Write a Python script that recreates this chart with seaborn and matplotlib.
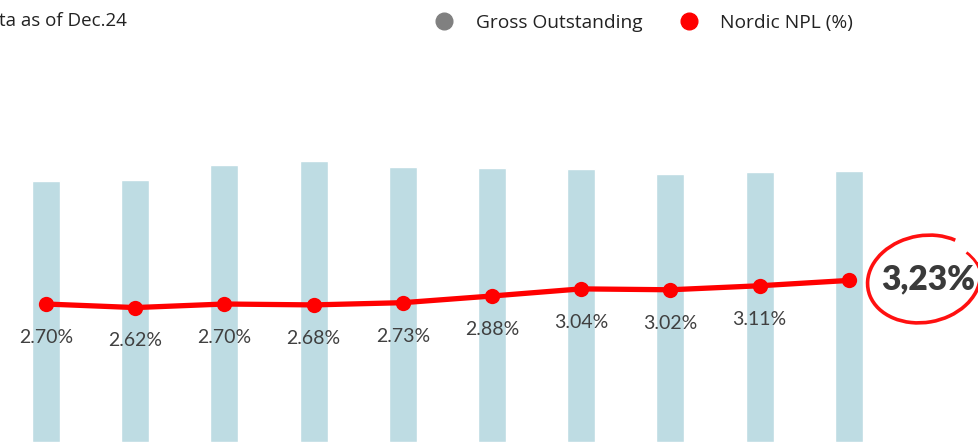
import matplotlib
matplotlib.use("Agg")
import matplotlib.pyplot as plt
from matplotlib.lines import Line2D
from matplotlib.patches import Arc
import seaborn as sns
import pandas as pd
import numpy as np

periods = ["P1", "P2", "P3", "P4", "P5", "P6", "P7", "P8", "P9", "P10"]
gross_outstanding = [26.1, 26.2, 27.7, 28.1, 27.5, 27.4, 27.3, 26.8, 27.0, 27.1]
npl_pct = [2.70, 2.62, 2.70, 2.68, 2.73, 2.88, 3.04, 3.02, 3.11, 3.23]
npl_labels = ["2.70%", "2.62%", "2.70%", "2.68%", "2.73%", "2.88%", "3.04%", "3.02%", "3.11%", "3,23%"]

sns.set_theme(style="white")
plt.rcParams['font.family'] = ['Lato', 'DejaVu Sans']

W, H = 979, 442
fig = plt.figure(figsize=(W / 100, H / 100), dpi=100)
ax = fig.add_axes([0, 0, 1, 1])

df = pd.DataFrame({"period": periods, "gross": gross_outstanding, "npl": npl_pct})
df["x"] = np.arange(len(df))

# bars
step = 89.2
x0 = 46
xlim = (-x0 / step, (W - x0) / step)
bar_w = 28 / step
sns.barplot(data=df, x="period", y="gross", ax=ax, color="#bedce3",
            width=bar_w, saturation=1, native_scale=False)
ax.set_xlim(*xlim)
ax.set_ylim(0, 44.2)
ax.axis("off")

# line on twin axis
ax2 = ax.twinx()
sns.lineplot(data=df, x="x", y="npl", ax=ax2, color="#ff0000", linewidth=3.8,
             marker="o", markersize=11, markeredgewidth=0, legend=False)
ax2.set_xlim(*xlim)
ax2.set_ylim(-0.40, 9.53)
ax2.axis("off")

# labels
for i, (v, lab) in enumerate(zip(npl_pct, npl_labels)):
    if i < len(npl_pct) - 1:
        ax2.annotate(lab, (i, v), xytext=(0, -24), textcoords="offset points",
                     ha="center", va="center", fontsize=14, color="#404040")
    else:
        ax2.annotate(lab, (i, v), xytext=(57, 1), textcoords="offset points",
                     ha="center", va="center", fontsize=24, color="#3a3a3a",
                     fontweight="heavy")

# hand drawn circle
fx = lambda px: px / W
fy = lambda py: 1 - py / H
arc = Arc((fx(924), fy(279)), 112 / W, 88 / H, angle=-5, theta1=75, theta2=400,
          transform=fig.transFigure, color="#ff1010", linewidth=2.6)
fig.add_artist(arc)
arc2 = Arc((fx(930), fy(281)), 104 / W, 80 / H, angle=0, theta1=20, theta2=60,
           transform=fig.transFigure, color="#ff1010", linewidth=2.0)
fig.add_artist(arc2)

# top-left note
fig.text(fx(127), fy(21), "Data as of Dec.24", ha="right", va="center",
         fontsize=13.5, color="#222222", family=["Open Sans", "DejaVu Sans"])

# legend
handles = [
    Line2D([], [], linestyle="none", marker="o", markersize=12, color="#808080"),
    Line2D([], [], linestyle="none", marker="o", markersize=12, color="#ff0000"),
]
fig.legend(handles, ["Gross Outstanding", "Nordic NPL (%)"], ncol=2, frameon=False,
           loc="center left", bbox_to_anchor=(fx(408), fy(23)),
           handletextpad=0.65, columnspacing=1.4,
           prop={"family": ["Open Sans", "DejaVu Sans"], "size": 13.8})
for t in fig.legends[0].get_texts():
    t.set_color("#222222")

fig.savefig("out.png", dpi=100)
